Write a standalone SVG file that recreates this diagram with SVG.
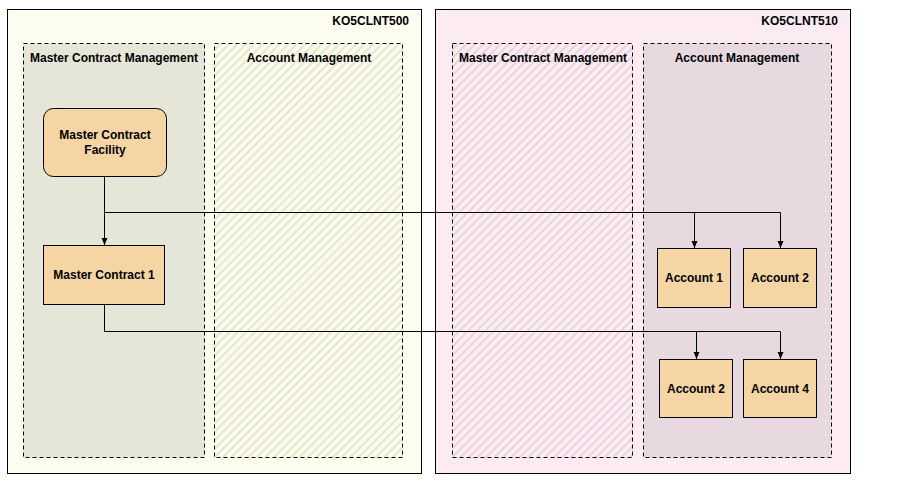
<svg xmlns="http://www.w3.org/2000/svg" width="907" height="482" viewBox="0 0 907 482">
<style>
text{font-family:"Liberation Sans",Arial,sans-serif;font-weight:bold;font-size:12px;fill:#000}
.outer{stroke:#000;stroke-width:1}
.lane{stroke:#000;stroke-dasharray:4,3;stroke-width:1}
.node{fill:#f5d5a3;stroke:#000;stroke-width:1}
.c{fill:none;stroke:#000;stroke-width:1}
</style>
<defs>
<pattern id="h1" width="6" height="6" patternUnits="userSpaceOnUse" patternTransform="rotate(45)">
<rect width="6" height="6" fill="#fcfcec"/><rect width="2" height="6" fill="#e6e6d2"/></pattern>
<pattern id="h2" width="6" height="6" patternUnits="userSpaceOnUse" patternTransform="rotate(45)">
<rect width="6" height="6" fill="#fcebf2"/><rect width="2" height="6" fill="#e8d4dc"/></pattern>
<marker id="a" markerWidth="8" markerHeight="8" refX="7" refY="4" orient="auto" markerUnits="userSpaceOnUse"><path d="M0,1 L7,4 L0,7 Z" fill="#000"/></marker>
</defs>
<g id="client500">
<rect class="outer" x="7.5" y="9.5" width="414" height="464" fill="#fefef0"/>
<text x="409" y="25" text-anchor="end">KO5CLNT500</text>
<rect class="lane" x="23.5" y="43.5" width="181" height="414" fill="#e6e6d8"/>
<text x="114" y="62" text-anchor="middle">Master Contract Management</text>
<rect class="lane" x="214.5" y="43.5" width="188" height="414" fill="url(#h1)"/>
<text x="309" y="62" text-anchor="middle">Account Management</text>
</g>
<g id="client510">
<rect class="outer" x="435.5" y="9.5" width="415" height="464" fill="#fdebf3"/>
<text x="838" y="25" text-anchor="end">KO5CLNT510</text>
<rect class="lane" x="452.5" y="43.5" width="180" height="414" fill="url(#h2)"/>
<text x="543" y="62" text-anchor="middle">Master Contract Management</text>
<rect class="lane" x="643.5" y="43.5" width="188" height="414" fill="#e8d9e0"/>
<text x="737" y="62" text-anchor="middle">Account Management</text>
</g>
<g id="facility"><rect class="node" x="43.5" y="108.5" width="123" height="68" rx="10"/>
<text x="105" y="139" text-anchor="middle">Master Contract</text><text x="105" y="154" text-anchor="middle">Facility</text></g>
<g id="mc1"><rect class="node" x="43.5" y="245.5" width="121" height="59"/>
<text x="104" y="279" text-anchor="middle">Master Contract 1</text></g>
<g id="acc1"><rect class="node" x="657.5" y="248.5" width="73" height="59"/><text x="694" y="282" text-anchor="middle">Account 1</text></g>
<g id="acc2a"><rect class="node" x="743.5" y="248.5" width="73" height="59"/><text x="780" y="282" text-anchor="middle">Account 2</text></g>
<g id="acc2b"><rect class="node" x="659.5" y="359.5" width="73" height="58"/><text x="696" y="393" text-anchor="middle">Account 2</text></g>
<g id="acc4"><rect class="node" x="743.5" y="359.5" width="73" height="58"/><text x="780" y="393" text-anchor="middle">Account 4</text></g>
<g id="connectors">
<path class="c" d="M104.5,176 V245" marker-end="url(#a)"/>
<path class="c" d="M104.5,212.5 H780.5"/>
<path class="c" d="M694.5,212.5 V248" marker-end="url(#a)"/>
<path class="c" d="M780.5,212.5 V248" marker-end="url(#a)"/>
<path class="c" d="M104.5,304 V331.5 H780.5"/>
<path class="c" d="M696.5,331.5 V359" marker-end="url(#a)"/>
<path class="c" d="M780.5,331.5 V359" marker-end="url(#a)"/>
</g>
</svg>
